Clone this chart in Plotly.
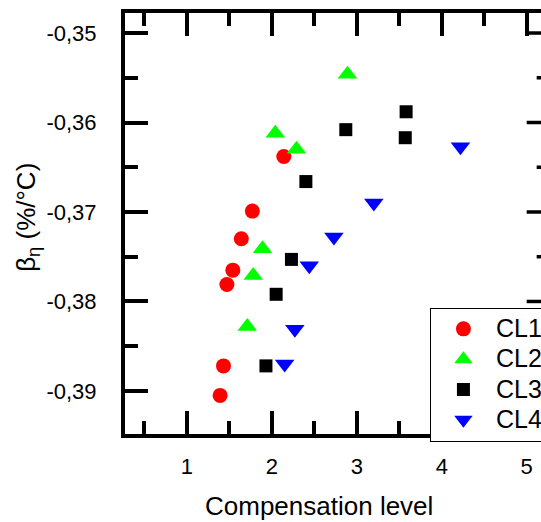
import plotly.graph_objects as go

# Temperature coefficient of efficiency vs. compensation level, four cell lots
cl1_x = [2.14, 1.77, 1.64, 1.54, 1.47, 1.43, 1.39]
cl1_y = [-0.3638, -0.3699, -0.3730, -0.3765, -0.3781, -0.3872, -0.3905]

cl2_x = [2.89, 2.04, 2.29, 1.89, 1.78, 1.71]
cl2_y = [-0.3546, -0.3612, -0.3630, -0.3741, -0.3771, -0.3828]

cl3_x = [3.58, 2.87, 3.57, 2.40, 2.23, 2.05, 1.93]
cl3_y = [-0.3588, -0.3608, -0.3617, -0.3666, -0.3753, -0.3792, -0.3872]

cl4_x = [4.22, 3.20, 2.73, 2.44, 2.27, 2.15]
cl4_y = [-0.3627, -0.3690, -0.3728, -0.3760, -0.3831, -0.3870]

x_ticks = [1, 2, 3, 4, 5]
x_minor = [0.5, 1.5, 2.5, 3.5, 4.5]
y_ticks = [-0.35, -0.36, -0.37, -0.38, -0.39]
y_ticktext = ["-0,35", "-0,36", "-0,37", "-0,38", "-0,39"]
y_minor = [-0.355, -0.365, -0.375, -0.385]

FONT = "Liberation Sans, Arial, sans-serif"
RIGHT_FRAME_X = 5.27  # right frame edge, lies just outside the visible area

series = [
    ("CL1", cl1_x, cl1_y, "circle", "#ff0000", 15),
    ("CL2", cl2_x, cl2_y, "triangle-up", "#00ff00", 17),
    ("CL3", cl3_x, cl3_y, "square", "#000000", 13),
    ("CL4", cl4_x, cl4_y, "triangle-down", "#0000ff", 17),
]

fig = go.Figure()
for name, xs, ys, sym, col, size in series:
    fig.add_trace(go.Scatter(
        x=xs, y=ys, mode="markers",
        name=f"<span style='font-size:25px'>{name}</span>",
        marker=dict(symbol=sym, color=col, size=size, line=dict(width=0)),
        cliponaxis=False,
    ))

# inward ticks along the right frame edge
shapes = []
for v in y_ticks:
    shapes.append(dict(type="line", xref="x", yref="y",
                       x0=RIGHT_FRAME_X - 23 / 85, x1=RIGHT_FRAME_X, y0=v, y1=v,
                       line=dict(color="black", width=3.5)))
for v in y_minor:
    shapes.append(dict(type="line", xref="x", yref="y",
                       x0=RIGHT_FRAME_X - 13 / 85, x1=RIGHT_FRAME_X, y0=v, y1=v,
                       line=dict(color="black", width=3.5)))

fig.update_layout(
    width=541, height=522,
    margin=dict(l=125, r=0, t=13, b=88, autoexpand=False),
    paper_bgcolor="white", plot_bgcolor="white",
    font=dict(family=FONT, color="black", size=22),
    showlegend=True,
    legend=dict(
        x=0.733, y=0.30, xanchor="left", yanchor="top",
        bordercolor="black", borderwidth=1, bgcolor="white",
        font=dict(size=21, family=FONT), itemwidth=55,
    ),
    shapes=shapes,
    annotations=[
        dict(text="Compensation level", xref="paper", yref="paper",
             x=0.466, y=-0.170, xanchor="center", yanchor="middle",
             showarrow=False, font=dict(size=26, family=FONT)),
        dict(text="β<sub>η</sub> (%/°C)", xref="paper", yref="paper",
             x=-0.235, y=0.514, xanchor="center", yanchor="middle",
             textangle=-90, showarrow=False, font=dict(size=26, family=FONT)),
    ],
    xaxis=dict(
        range=[0.2706, 5.168],
        tickmode="array", tickvals=x_ticks,
        ticks="inside", ticklen=23, tickwidth=3.5, tickcolor="black",
        showline=True, linewidth=4, linecolor="black", mirror="ticks",
        showgrid=False, zeroline=False,
        tickfont=dict(size=22), ticklabelstandoff=10,
        minor=dict(tickmode="array", tickvals=x_minor, ticks="inside",
                   ticklen=13, tickwidth=3.5, tickcolor="black", showgrid=False),
    ),
    yaxis=dict(
        range=[-0.394813, -0.347762],
        tickmode="array", tickvals=y_ticks, ticktext=y_ticktext,
        ticks="inside", ticklen=23, tickwidth=3.5, tickcolor="black",
        showline=True, linewidth=4, linecolor="black", mirror=False,
        showgrid=False, zeroline=False,
        tickfont=dict(size=22), ticklabelstandoff=20,
        minor=dict(tickmode="array", tickvals=y_minor, ticks="inside",
                   ticklen=13, tickwidth=3.5, tickcolor="black", showgrid=False),
    ),
)

fig.write_html("out.html")
